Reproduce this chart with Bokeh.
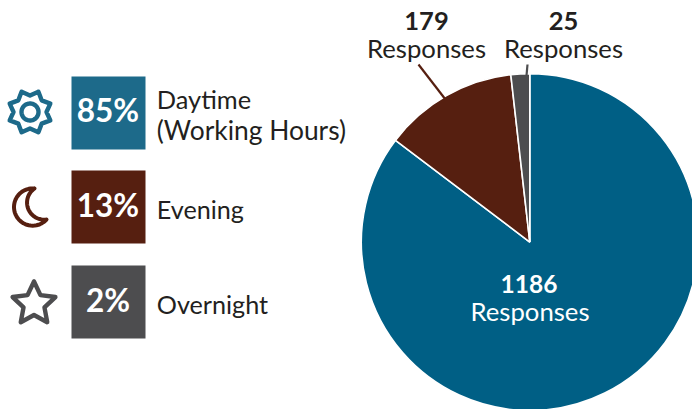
import numpy as np
from bokeh.plotting import figure
from bokeh.embed import file_html
from bokeh.resources import INLINE
from bokeh.core.properties import value

# Data
slice_names = ["Daytime", "Overnight", "Evening"]
responses = [1186, 25, 179]
slice_colors = ["#005f85", "#4d4d4f", "#561f10"]
legend_pcts = ["85%", "13%", "2%"]
legend_labels = [["Daytime", "(Working Hours)"], ["Evening"], ["Overnight"]]
legend_colors = ["#1d6a8a", "#561f10", "#4d4d4f"]
icon_colors = ["#1d6a8a", "#561f10", "#4d4d4f"]

W, H = 692, 409
FONT = "Lato"
INK = "#231f20"
def X(px): return px
def Y(py): return H - py

p = figure(width=W, height=H, x_range=(0, W), y_range=(0, H),
           output_backend="svg", toolbar_location=None, min_border=0,
           outline_line_color=None, background_fill_color="white")
p.axis.visible = False
p.grid.visible = False

# Pie (clockwise from 12 o'clock)
cx, cy, r = X(529.3), Y(241.6), 168.5
total = sum(responses)
order = [0, 2, 1]
edges = np.cumsum([0] + [responses[i] for i in order]) / total * 2 * np.pi
starts = np.pi / 2 - edges[1:]
ends = np.pi / 2 - edges[:-1]
p.wedge(x=[cx] * 3, y=[cy] * 3, radius=r, start_angle=starts, end_angle=ends,
        fill_color=[slice_colors[i] for i in order], line_color="white", line_width=1.6)

# Leader lines
p.line([X(418), X(445)], [Y(64), Y(99)], line_color="#561f10", line_width=2.2)
p.line([X(527), X(526)], [Y(64), Y(75)], line_color="#4d4d4f", line_width=2.2)

def txt(px, py, s, size, color=INK, bold=False, align="center"):
    p.text(x=[X(px)], y=[Y(py)], text=[s], text_font=value(FONT),
           text_font_size=f"{size}px", text_color=color, text_align=align,
           text_baseline="middle", text_font_style="bold" if bold else "normal")

# Pie labels
txt(426, 20, f"{responses[2]}", 25.5, bold=True)
txt(426, 47.5, "Responses", 25.7)
txt(563, 20, f"{responses[1]}", 25.5, bold=True)
txt(563, 47.5, "Responses", 25.7)
txt(528.5, 283, f"{responses[0]}", 24.5, color="white", bold=True)
txt(529.5, 310.5, "Responses", 25.7, color="white")

# Legend boxes
box_tops = [76, 170, 265]
for top, col, pct, ty in zip(box_tops, legend_colors, legend_pcts, [109.5, 204.5, 299.5]):
    p.quad(left=X(71), right=X(145), top=Y(top), bottom=Y(top + 73),
           fill_color=col, line_color=None)
    txt(107.5, ty, pct, 31.5, color="white", bold=True)

txt(156.3, 98, legend_labels[0][0], 25.4, align="left")
txt(156.3, 129.5, legend_labels[0][1], 26.4, align="left")
txt(156.3, 208, legend_labels[1][0], 25.2, align="left")
txt(156.3, 303, legend_labels[2][0], 25.2, align="left")

def stroke(xs, ys, color, w=4):
    p.line([X(v) for v in xs], [Y(v) for v in ys], line_color=color, line_width=w,
           line_join="round", line_cap="round")

# Sun icon
a = np.deg2rad(22.5 * np.arange(17) + 22.5)
rad = np.where(np.arange(17) % 2 == 0, 22, 16.5)
stroke(29.5 + rad * np.sin(a), 111.5 - rad * np.cos(a), icon_colors[0], 4.4)
t = np.linspace(0, 2 * np.pi, 60)
stroke(29.5 + 8.5 * np.cos(t), 111.5 + 8.5 * np.sin(t), icon_colors[0], 4.4)

# Moon icon
def arc3(P, Q, R, n=40):
    (ax, ay), (bx, by), (ccx, ccy) = P, Q, R
    d = 2 * (ax * (by - ccy) + bx * (ccy - ay) + ccx * (ay - by))
    ux = ((ax**2 + ay**2) * (by - ccy) + (bx**2 + by**2) * (ccy - ay) + (ccx**2 + ccy**2) * (ay - by)) / d
    uy = ((ax**2 + ay**2) * (ccx - bx) + (bx**2 + by**2) * (ax - ccx) + (ccx**2 + ccy**2) * (bx - ax)) / d
    r0 = np.hypot(ax - ux, ay - uy)
    a0 = np.arctan2(ay - uy, ax - ux)
    a1 = np.arctan2(by - uy, bx - ux)
    a2 = np.arctan2(ccy - uy, ccx - ux)
    d1 = (a1 - a0) % (2 * np.pi)
    d2 = (a2 - a0) % (2 * np.pi)
    if d1 > d2:
        d2 -= 2 * np.pi
    th = a0 + np.linspace(0, d2, n)
    return ux + r0 * np.cos(th), uy + r0 * np.sin(th)

ox, oy = arc3((34, 188), (13.5, 207), (46, 219))
ix, iy = arc3((46, 219), (27, 206), (34, 188))
stroke(np.r_[ox, ix], np.r_[oy, iy], icon_colors[1], 4)

# Star icon
k = np.arange(11)
a = np.deg2rad(36 * k)
rad = np.where(k % 2 == 0, 22.5, 11)
stroke(33.5 + rad * np.sin(a), 303.5 - rad * np.cos(a), icon_colors[2], 4.4)

open("out.html", "w").write(file_html(p, INLINE))
